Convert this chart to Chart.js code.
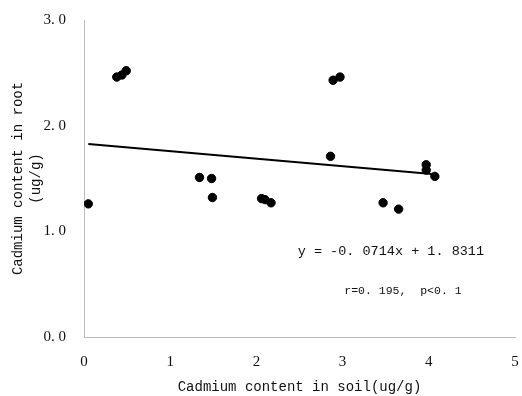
<!DOCTYPE html>
<html>
<head>
<meta charset="utf-8">
<script src="https://cdn.jsdelivr.net/npm/chart.js@4/dist/chart.umd.min.js"></script>
<style>
  html, body { margin: 0; padding: 0; background: #fff; }
  #wrap { width: 522px; height: 396px; position: relative; }
</style>
</head>
<body>
<div id="wrap"><canvas id="chart"></canvas></div>
<script>
// Cadmium in soil (x) vs root (y), ug/g
const soilCd = [0.05, 0.38, 0.44, 0.49, 1.34, 1.48, 1.49, 2.06, 2.10, 2.17, 2.86, 2.89, 2.97, 3.47, 3.65, 3.97, 3.97, 4.07];
const rootCd = [1.26, 2.46, 2.48, 2.52, 1.51, 1.50, 1.32, 1.31, 1.30, 1.27, 1.71, 2.43, 2.46, 1.27, 1.21, 1.63, 1.58, 1.52];

// regression as printed on the figure
const slope = -0.0714;
const intercept = 1.8311;
const fitLabels = ['y = -0. 0714x + 1. 8311', 'r=0. 195,  p<0. 1'];

const xTickLabels = ['0', '1', '2', '3', '4', '5'];
const yTickLabels = ['0. 0', '1. 0', '2. 0', '3. 0'];

const points = soilCd.map((x, i) => ({ x: x, y: rootCd[i] }));
const xMin = Math.min(...soilCd);
const xMax = Math.max(...soilCd);
const fitLine = [
    { x: xMin, y: intercept + slope * xMin },
    { x: xMax, y: intercept + slope * xMax }
];

const serif = '"Liberation Serif", "DejaVu Serif", serif';
const mono = '"Liberation Mono", "DejaVu Sans Mono", monospace';

// draws the equation text inside the plot
const fitText = {
    id: 'fitText',
    afterDatasetsDraw(chart) {
        const { ctx, scales } = chart;
        ctx.save();
        ctx.fillStyle = '#111';
        ctx.textAlign = 'center';
        ctx.textBaseline = 'middle';
        ctx.font = '13.5px ' + mono;
        ctx.fillText(fitLabels[0], scales.x.getPixelForValue(3.56), scales.y.getPixelForValue(0.81));
        ctx.font = '11.5px ' + mono;
        ctx.fillText(fitLabels[1], scales.x.getPixelForValue(3.7), scales.y.getPixelForValue(0.44));
        ctx.restore();
    }
};

new Chart(document.getElementById('chart'), {
    type: 'scatter',
    data: {
        datasets: [
            {
                label: 'samples',
                data: points,
                backgroundColor: '#000',
                borderColor: '#000',
                pointRadius: 4.2,
                pointHoverRadius: 4.2
            },
            {
                label: 'fit',
                type: 'line',
                data: fitLine,
                borderColor: '#000',
                borderWidth: 2,
                pointRadius: 0,
                fill: false
            }
        ]
    },
    options: {
        responsive: true,
        maintainAspectRatio: false,
        animation: false,
        layout: { padding: { top: 20, right: 7, left: 0, bottom: 0 } },
        plugins: {
            legend: { display: false },
            tooltip: { enabled: false }
        },
        scales: {
            x: {
                type: 'linear',
                min: 0,
                max: 5,
                ticks: {
                    stepSize: 1,
                    padding: 8,
                    color: '#111',
                    font: { family: serif, size: 15 },
                    callback: (v) => xTickLabels[v] ?? ''
                },
                grid: { display: false },
                border: { display: true, color: '#bbb', dash: [4, 3], width: 1 },
                title: {
                    display: true,
                    text: 'Cadmium content in soil(ug/g)',
                    color: '#111',
                    font: { family: mono, size: 14 },
                    padding: { top: 2, bottom: 0 }
                },
                afterFit: (s) => {
                    s.height = 59;
                    s.paddingLeft = 0;
                    s.paddingRight = 0;
                }
            },
            y: {
                min: 0,
                max: 3,
                ticks: {
                    stepSize: 1,
                    padding: 10,
                    color: '#111',
                    font: { family: serif, size: 15 },
                    callback: (v) => yTickLabels[v] ?? ''
                },
                grid: { display: false },
                border: { display: true, color: '#bbb', dash: [4, 3], width: 1 },
                title: {
                    display: true,
                    text: ['Cadmium content in root', '(ug/g)'],
                    color: '#111',
                    font: { family: mono, size: 14, lineHeight: 1.25 },
                    padding: { top: 10, bottom: 0 }
                },
                afterFit: (s) => {
                    s.width = 84;
                    s.paddingTop = 0;
                    s.paddingBottom = 0;
                }
            }
        }
    },
    plugins: [fitText]
});
</script>
</body>
</html>
